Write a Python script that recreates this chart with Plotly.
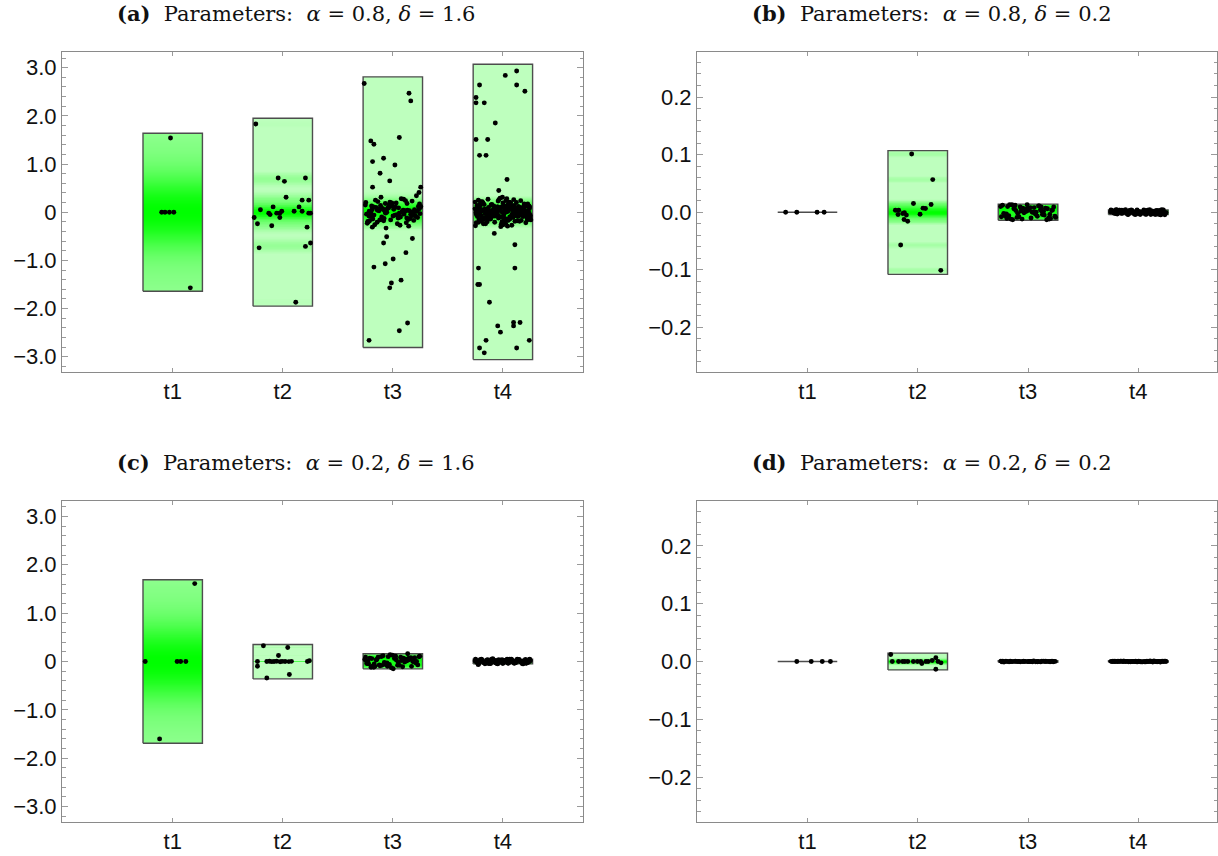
import numpy as np
import plotly.graph_objects as go

# ---------------- data ----------------
categories = ["t1", "t2", "t3", "t4"]
cat_pos = [1, 2, 3, 4]

titles = [
    "<b>(a)</b>\u00a0 Parameters:\u00a0 <i>α</i> = 0.8, <i>δ</i> = 1.6",
    "<b>(b)</b>\u00a0 Parameters:\u00a0 <i>α</i> = 0.8, <i>δ</i> = 0.2",
    "<b>(c)</b>\u00a0 Parameters:\u00a0 <i>α</i> = 0.2, <i>δ</i> = 1.6",
    "<b>(d)</b>\u00a0 Parameters:\u00a0 <i>α</i> = 0.2, <i>δ</i> = 0.2",
]

wide_tickvals = [-3, -2, -1, 0, 1, 2, 3]
wide_ticktext = ["−3.0", "−2.0", "−1.0", "0", "1.0", "2.0", "3.0"]
narrow_tickvals = [-0.2, -0.1, 0.0, 0.1, 0.2]
narrow_ticktext = ["−0.2", "−0.1", "0.0", "0.1", "0.2"]

# ---- panel (a) ----
a_t1_y = [1.54, 0.0, 0.0, 0.0, 0.0, -1.57]
a_t1_dx = [-0.02, -0.10, -0.07, -0.03, 0.01, 0.16]
a_t2_y = [1.83, 0.71, 0.64, 0.71, 0.31, 0.25, 0.25, 0.11, 0.11, 0.05,
          -0.02, -0.05, -0.02, -0.02, 0.02, -0.11, 0.02, 0.02, -0.02, -0.02,
          -0.11, -0.24, -0.28, -0.31, -0.74, -0.71, -0.64, -1.87]
a_t2_dx = [-0.245, -0.042, 0.015, 0.206, 0.03, 0.176, 0.236, 0.148, -0.088, -0.203,
           -0.127, -0.115, -0.055, -0.027, -0.009, -0.027, 0.103, 0.176, 0.236, 0.252,
           -0.26, -0.23, -0.1, 0.221, -0.215, 0.206, 0.252, 0.118]
a_t3_tail_y = [2.67, 2.47, 2.31, 1.55, 1.48, 1.41, 1.05, 1.12, 0.81, 0.98,
               0.65, 0.52, 0.52, 0.41, -0.545, -0.51, -0.64, -0.84, -0.97, -1.07,
               -1.14, -1.41, -1.47, -1.57, -2.3, -2.46, -2.66]
a_t3_tail_dx = [-0.26, 0.147, 0.163, 0.059, -0.2, -0.172, -0.184, -0.084, -0.116, 0.019,
                -0.028, -0.184, 0.253, 0.238, 0.178, -0.056, -0.084, 0.119, 0.003, -0.069,
                -0.172, 0.075, -0.013, -0.028, 0.134, 0.059, -0.216]
a_t3_core_y = [0.05, -0.12, 0.18, -0.03, 0.09, -0.21, 0.0, 0.14, -0.08, 0.27,
               -0.15, 0.02, 0.11, -0.06, -0.29, 0.07, 0.2, -0.1, 0.03, -0.17,
               0.13, -0.01, 0.24, -0.13, 0.06, -0.24, 0.1, -0.05, 0.16, -0.19,
               0.01, 0.31, -0.09, 0.08, -0.14, 0.04, -0.33, 0.12, -0.02, 0.22,
               -0.07, 0.15, -0.18, 0.0, 0.06, -0.11, 0.19, -0.26, 0.03, 0.1,
               -0.04, 0.28, -0.16, 0.05, -0.08, 0.13, -0.22, 0.02, 0.17, -0.12,
               0.08, -0.03, 0.21, -0.2, 0.04, -0.1, 0.34, -0.06, 0.11, -0.15,
               0.0, 0.15, -0.27, 0.07, -0.01, 0.19, -0.09, 0.03, -0.18, 0.12,
               -0.05, 0.25, -0.13, 0.09, -0.23, 0.01, 0.14, -0.07, 0.06, -0.31,
               0.18, -0.02, 0.1, -0.11, 0.04, 0.23, -0.16, 0.02, -0.04, 0.08]
a_t4_tail_y = [2.93, 2.84, 2.64, 2.51, 2.64, 2.38, 2.27, 2.27, 1.85, 1.51,
               1.51, 1.18, 1.18, 0.68, 0.45, -0.44, -0.675, -1.16, -1.16, -1.5,
               -1.5, -1.87, -2.36, -2.49, -2.29, -2.36, -2.29, -2.66, -2.66, -2.82,
               -2.92, -2.82]
a_t4_tail_dx = [0.125, 0.022, 0.125, 0.2, -0.212, -0.244, -0.244, -0.169, -0.069, -0.244,
                -0.138, -0.212, -0.153, 0.0375, -0.0375, -0.078, 0.109, -0.222, 0.109, -0.228,
                -0.212, -0.122, -0.047, -0.022, 0.097, 0.097, 0.156, 0.24, -0.153, -0.212,
                -0.169, 0.125]
a_t4_core_y = [0.02, -0.05, 0.11, -0.13, 0.04, 0.19, -0.08, 0.0, -0.21, 0.07,
               0.15, -0.02, -0.17, 0.09, 0.25, -0.11, 0.03, -0.06, 0.13, -0.24,
               0.06, -0.01, 0.21, -0.14, 0.1, -0.09, 0.01, 0.17, -0.19, 0.05,
               -0.04, 0.28, -0.12, 0.08, -0.07, 0.14, -0.27, 0.0, 0.12, -0.16,
               0.22, -0.03, 0.06, -0.1, 0.18, -0.2, 0.03, 0.09, -0.15, 0.26,
               -0.05, 0.02, -0.23, 0.16, -0.08, 0.11, -0.01, 0.2, -0.13, 0.04,
               0.31, -0.18, 0.07, -0.06, 0.13, -0.29, 0.01, 0.24, -0.11, 0.05,
               -0.02, 0.15, -0.22, 0.08, 0.19, -0.09, 0.0, -0.16, 0.1, 0.27,
               -0.04, -0.25, 0.12, -0.07, 0.03, 0.17, -0.14, 0.06, -0.19, 0.23,
               -0.03, 0.09, -0.12, 0.14, -0.26, 0.02, 0.2, -0.08, 0.11, -0.17,
               0.05, -0.05, 0.29, -0.21, 0.07, 0.16, -0.1, 0.0, -0.15, 0.12,
               0.04, -0.28, 0.18, -0.06, 0.08, -0.2, 0.22, -0.02, 0.13, -0.12,
               0.01, -0.24, 0.1, 0.26, -0.09, 0.06, -0.14, 0.15, -0.04, 0.19,
               -0.18, 0.03, -0.07, 0.21, -0.11, 0.09, -0.3, 0.05, 0.14, -0.01,
               -0.16, 0.24, -0.13, 0.02, 0.11, -0.22, 0.07, -0.06, 0.17, -0.1,
               0.03, -0.07, 0.1, -0.02, 0.06, -0.11, 0.0, 0.08, -0.05, 0.12,
               -0.09, 0.01, 0.05, -0.12, 0.09, -0.04, 0.07, -0.1, 0.02, -0.06,
               0.11, -0.01, 0.04, -0.08, 0.0, 0.1, -0.03, 0.06, -0.12, 0.08,
               -0.06, 0.02, 0.12, -0.09, 0.05, -0.02, 0.09, -0.11, 0.03, -0.05]
a_box_lo = [-1.64, -1.95, -2.81, -3.06]
a_box_hi = [1.64, 1.95, 2.81, 3.07]

# ---- panel (b) ----
b_t1_y = [0.0, 0.0, 0.0, 0.0]
b_t1_dx = [-0.198, -0.097, 0.087, 0.151]
b_t2_y = [0.101, 0.0566, 0.015, 0.0133, 0.0064, 0.007, -0.0035, 0.0035, 0.0035, -0.004,
          -0.0023, -0.001, -0.005, -0.0127, -0.0156, -0.057, -0.101]
b_t2_dx = [-0.055, 0.136, -0.039, 0.121, 0.07, 0.048, 0.021, -0.203, -0.173, -0.179,
           -0.136, -0.121, -0.103, -0.124, -0.091, -0.155, 0.209]
b_t3_y = [0.012, -0.004, 0.007, -0.011, 0.002, 0.009, -0.007, 0.0, 0.013, -0.013,
          0.005, -0.002, 0.011, -0.009, 0.003, 0.008, -0.006, 0.001, -0.012, 0.01,
          -0.003, 0.006, -0.01, 0.013, -0.005, 0.004, -0.008, 0.009, 0.0, -0.012,
          0.007, -0.001, 0.012, -0.007, 0.003, -0.011, 0.005, 0.01, -0.004, 0.002,
          -0.009, 0.008, -0.013, 0.006, 0.001, -0.006, 0.011, -0.002, 0.004, -0.01,
          0.013, -0.005, 0.007, -0.008, 0.0, 0.01, -0.012, 0.003, -0.003, 0.009]
b_t4_y = [0.001, -0.003, 0.004, -0.001, 0.002, -0.004, 0.0, 0.003, -0.002, 0.0045,
          -0.0045, 0.001, -0.003, 0.002, 0.0, -0.001, 0.004, -0.002, 0.003, -0.004,
          0.0005, 0.0025, -0.0035, 0.0015, -0.0005, 0.0035, -0.0025, 0.0, 0.004, -0.0015,
          0.002, -0.003, 0.001, 0.0045, -0.004, 0.003, -0.001, 0.0, -0.002, 0.0025,
          -0.0035, 0.0015, 0.0035, -0.0005, -0.0045, 0.0005, 0.002, -0.0025, 0.004, -0.001,
          0.003, 0.0, -0.003, 0.001, -0.0015, 0.0045, -0.004, 0.0025, -0.002, 0.0035,
          0.0, -0.0005, 0.0015, -0.0035, 0.0005, 0.003, -0.0025, 0.004, -0.001, 0.002,
          -0.0045, 0.001, 0.0035, -0.003, 0.0, -0.0015, 0.0025, -0.002, 0.0045, -0.004,
          0.0015, -0.0005, 0.003, 0.0005, -0.0035, 0.002, -0.001, 0.004, -0.0025, 0.0]
b_box_lo = [0.0, -0.108, -0.014, -0.004]
b_box_hi = [0.0, 0.107, 0.014, 0.004]

# ---- panel (c) ----
c_t1_y = [1.61, 0.0, 0.0, 0.0, 0.0, -1.6]
c_t1_dx = [0.2, -0.25, 0.04, 0.072, 0.119, -0.119]
c_t2_y = [0.325, 0.29, 0.124, 0.0, -0.097,
          0.0, 0.004, -0.003, 0.0, 0.006, -0.005, 0.002, 0.0, -0.002, 0.003,
          -0.27, -0.34, 0.0, 0.014]
c_t2_dx = [-0.176, 0.045, -0.039, -0.23, -0.23,
           -0.145, -0.121, -0.1, -0.079, -0.055, -0.024, -0.006, 0.021, 0.055, 0.079,
           0.06, -0.145, 0.224, 0.242]
c_t3_y = [0.11, -0.05, 0.07, -0.1, 0.02, 0.09, -0.07, 0.0, 0.13, -0.12,
          0.05, -0.02, 0.1, -0.08, 0.03, 0.08, -0.06, 0.01, -0.11, 0.1,
          -0.03, 0.06, -0.09, 0.16, -0.04, 0.04, -0.08, 0.09, 0.0, -0.13,
          0.07, -0.01, 0.12, -0.07, 0.03, -0.1, 0.05, 0.1, -0.04, 0.02,
          -0.09, 0.08, -0.15, 0.06, 0.01, -0.06, 0.11, -0.02, 0.04, -0.1,
          0.14, -0.05, 0.07, -0.08, 0.0, 0.1, -0.12, 0.03, -0.03, 0.09]
c_t4_y = [0.01, -0.03, 0.04, -0.01, 0.02, -0.045, 0.0, 0.03, -0.02, 0.05,
          -0.04, 0.015, -0.025, 0.035, 0.005, -0.015, 0.045, -0.035, 0.025, -0.005,
          0.02, -0.05, 0.0, 0.04, -0.03, 0.01, -0.02, 0.03, -0.04, 0.045,
          -0.01, 0.015, -0.045, 0.035, 0.005, -0.025, 0.025, -0.015, 0.05, -0.035,
          0.0, 0.03, -0.005, 0.02, -0.04, 0.04, -0.02, 0.01, 0.045, -0.03,
          0.015, -0.01, 0.035, -0.045, 0.025, 0.005, -0.035, 0.06, -0.015, 0.0,
          -0.025, 0.04, -0.05, 0.02, 0.03, -0.005, 0.01, -0.04, 0.045, -0.02,
          0.015, 0.035, -0.03, 0.0, -0.01, 0.025, -0.065, 0.005, 0.04, -0.035,
          0.02, -0.015, 0.03, -0.025, 0.01, 0.05, -0.04, 0.0, -0.02, 0.035]
c_box_lo = [-1.69, -0.36, -0.152, -0.05]
c_box_hi = [1.69, 0.35, 0.159, 0.05]

# ---- panel (d) ----
d_t1_y = [0.0, 0.0, 0.0, 0.0]
d_t1_dx = [-0.097, 0.034, 0.134, 0.208]
d_t2_y = [0.012, 0.0, 0.0, 0.0, 0.0, 0.0, 0.0, 0.0, -0.0035, 0.0,
          0.0, 0.0017, 0.0064, 0.0, -0.0023, -0.0133, 0.0]
d_t2_dx = [-0.245, -0.231, -0.174, -0.137, -0.117, -0.09, -0.003, 0.027, 0.037, 0.074,
           0.094, 0.131, 0.164, 0.184, 0.211, 0.164, -0.04]
d_t3_y = [0.0003, -0.0005, 0.0, 0.0007, -0.0002, 0.0004, -0.0007, 0.0001, 0.0006, -0.0004,
          0.0, -0.0001, 0.0005, -0.0006, 0.0002, 0.0008, -0.0003, 0.0, 0.0003, -0.0008,
          0.0001, -0.0002, 0.0006, 0.0, -0.0005, 0.0004, -0.0001, 0.0007, -0.0006, 0.0002,
          0.0, -0.0003, 0.0005, -0.0007, 0.0001, 0.0003, -0.0004, 0.0, 0.0006, -0.0002,
          0.0004, -0.0005, 0.0002, 0.0, -0.0001]
d_t4_y = [-0.0002, 0.0005, 0.0, -0.0006, 0.0003, 0.0008, -0.0004, 0.0001, -0.0007, 0.0004,
          0.0, 0.0002, -0.0003, 0.0006, -0.0001, -0.0008, 0.0005, 0.0, 0.0003, -0.0005,
          0.0007, -0.0002, 0.0001, -0.0006, 0.0004, 0.0, -0.0003, 0.0002, 0.0006, -0.0004,
          0.0, 0.0008, -0.0001, 0.0003, -0.0007, 0.0005, 0.0, -0.0005, 0.0002, 0.0001,
          -0.0002, 0.0004, -0.0006, 0.0007, 0.0, -0.0003, 0.0006, -0.0001, 0.0003, -0.0004,
          0.0, 0.0005, -0.0008, 0.0002, 0.0001, -0.0005, 0.0004, -0.0002, 0.0, 0.0006]
d_box_lo = [0.0, -0.0145, -0.0012, -0.0012]
d_box_hi = [0.0, 0.0145, 0.0012, 0.0012]

# ---------------- layout / style ----------------
BOX_HALF = 0.27
JIT_HALF = 0.255
DENSITY_SCALE = [[0.0, "rgb(190,255,190)"], [0.06, "rgb(190,255,190)"],
                 [0.3, "rgb(135,255,135)"], [1.0, "rgb(0,255,0)"]]
OUTLINE = "#4d4d4d"
FRAME = "#8a8a8a"
TICKC = "#9a9a9a"
SANS = "Liberation Sans, Arial, sans-serif"
SERIF = "DejaVu Serif, serif"
W, H = 1218, 856
MARKER = 4.9


def jitter(n, seed):
    # deterministic, evenly spread horizontal offsets (display only)
    return [(((seed + k * 0.6180339887) % 1.0) - 0.5) * 2 * JIT_HALF for k in range(n)]


def kde_norm(vals, grid):
    v = np.asarray(vals, float)
    n = len(v)
    sd = v.std(ddof=1) if n > 1 else 0.0
    q75, q25 = np.percentile(v, [75, 25])
    s = min(sd, (q75 - q25) / 1.34)
    if s <= 0:
        s = sd
    h = 0.9 * s * n ** (-0.2)
    if h <= 0:
        h = (grid[-1] - grid[0]) / 10 + 1e-12
    d = np.exp(-0.5 * ((grid[:, None] - v[None, :]) / h) ** 2).sum(axis=1)
    return d / d.max()


panels = [
    dict(ys=[a_t1_y, a_t2_y, a_t3_tail_y + a_t3_core_y, a_t4_tail_y + a_t4_core_y],
         dxs=[a_t1_dx, a_t2_dx, a_t3_tail_dx + jitter(len(a_t3_core_y), 0.13),
              a_t4_tail_dx + jitter(len(a_t4_core_y), 0.41)],
         lo=a_box_lo, hi=a_box_hi),
    dict(ys=[b_t1_y, b_t2_y, b_t3_y, b_t4_y],
         dxs=[b_t1_dx, b_t2_dx, jitter(len(b_t3_y), 0.27), jitter(len(b_t4_y), 0.71)],
         lo=b_box_lo, hi=b_box_hi),
    dict(ys=[c_t1_y, c_t2_y, c_t3_y, c_t4_y],
         dxs=[c_t1_dx, c_t2_dx, jitter(len(c_t3_y), 0.55), jitter(len(c_t4_y), 0.09)],
         lo=c_box_lo, hi=c_box_hi),
    dict(ys=[d_t1_y, d_t2_y, d_t3_y, d_t4_y],
         dxs=[d_t1_dx, d_t2_dx, jitter(len(d_t3_y), 0.33), jitter(len(d_t4_y), 0.62)],
         lo=d_box_lo, hi=d_box_hi),
]

# plot-area pixel frames (left, right, top, bottom)
frames = [(62, 583, 52.4, 372), (697, 1217, 52.4, 372),
          (62, 583, 501, 822), (697, 1217, 501, 822)]
xranges = [[-0.006, 4.728], [-0.002, 4.714], [-0.006, 4.728], [-0.002, 4.714]]
yranges = [[-3.317, 3.317], [-0.2775, 0.2775], [-3.317, 3.317], [-0.2775, 0.2775]]
title_xy = [(296, 14), (932, 14), (296, 462), (932, 462)]

fig = go.Figure()

for p, panel in enumerate(panels):
    xa = "x" if p == 0 else f"x{p+1}"
    ya = "y" if p == 0 else f"y{p+1}"
    for i, c in enumerate(cat_pos):
        lo, hi = panel["lo"][i], panel["hi"][i]
        if hi - lo <= 0:
            continue
        nrow = 300
        step = (hi - lo) / nrow
        grid = lo + (np.arange(nrow) + 0.5) * step
        dens = kde_norm(panel["ys"][i], grid)
        z = np.column_stack([dens, dens])
        fig.add_trace(go.Heatmap(
            x=[c - BOX_HALF / 2, c + BOX_HALF / 2], y=grid, z=z,
            zmin=0, zmax=1, colorscale=DENSITY_SCALE,
            showscale=False, hoverinfo="skip", xaxis=xa, yaxis=ya))
    for i, c in enumerate(cat_pos):
        lo, hi = panel["lo"][i], panel["hi"][i]
        if hi - lo <= 0:
            xs, ys = [c - BOX_HALF, c + BOX_HALF], [lo, lo]
        else:
            xs = [c - BOX_HALF, c + BOX_HALF, c + BOX_HALF, c - BOX_HALF, c - BOX_HALF]
            ys = [lo, lo, hi, hi, lo]
        fig.add_trace(go.Scatter(x=xs, y=ys, mode="lines",
                                 line=dict(color=OUTLINE, width=1.4),
                                 hoverinfo="skip", showlegend=False, xaxis=xa, yaxis=ya))
    for i, c in enumerate(cat_pos):
        ys = panel["ys"][i]
        xs = [c + d for d in panel["dxs"][i]]
        fig.add_trace(go.Scatter(x=xs, y=ys, mode="markers",
                                 marker=dict(color="black", size=MARKER, line=dict(width=0)),
                                 hoverinfo="skip", showlegend=False, xaxis=xa, yaxis=ya))

layout = dict(width=W, height=H, margin=dict(l=0, r=0, t=0, b=0),
              paper_bgcolor="white", plot_bgcolor="white", showlegend=False)

for p in range(4):
    l, r, t, b = frames[p]
    xk = "xaxis" if p == 0 else f"xaxis{p+1}"
    yk = "yaxis" if p == 0 else f"yaxis{p+1}"
    xa = "x" if p == 0 else f"x{p+1}"
    ya = "y" if p == 0 else f"y{p+1}"
    wide = p in (0, 2)
    layout[xk] = dict(domain=[l / W, r / W], range=xranges[p], anchor=ya,
                      tickmode="array", tickvals=cat_pos, ticktext=categories,
                      ticks="inside", ticklen=4, tickwidth=1, tickcolor=TICKC,
                      showline=True, linecolor=FRAME, linewidth=1, mirror="ticks",
                      showgrid=False, zeroline=False, automargin=False,
                      tickfont=dict(family=SANS, size=22, color="#111111"))
    layout[yk] = dict(domain=[1 - b / H, 1 - t / H], range=yranges[p], anchor=xa,
                      tickmode="array",
                      tickvals=wide_tickvals if wide else narrow_tickvals,
                      ticktext=wide_ticktext if wide else narrow_ticktext,
                      ticks="inside", ticklen=6, tickwidth=1, tickcolor=TICKC,
                      showline=True, linecolor=FRAME, linewidth=1, mirror="ticks",
                      showgrid=False, zeroline=False, automargin=False,
                      tickfont=dict(family=SANS, size=22, color="#111111"),
                      minor=dict(ticks="inside", ticklen=3.5, tickcolor=TICKC, tickwidth=1,
                                 tickmode="linear", tick0=0, dtick=0.2 if wide else 0.02,
                                 showgrid=False))

annotations = []
for p in range(4):
    tx, ty = title_xy[p]
    annotations.append(dict(text=titles[p], x=tx / W, y=1 - ty / H, xref="paper", yref="paper",
                            xanchor="center", yanchor="middle", showarrow=False,
                            font=dict(family=SERIF, size=21, color="#111111")))
layout["annotations"] = annotations

fig.update_layout(**layout)
fig.write_html("out.html", config={"displayModeBar": False, "staticPlot": True},
               post_script="document.body.style.margin='0px';document.body.style.padding='0px';")
